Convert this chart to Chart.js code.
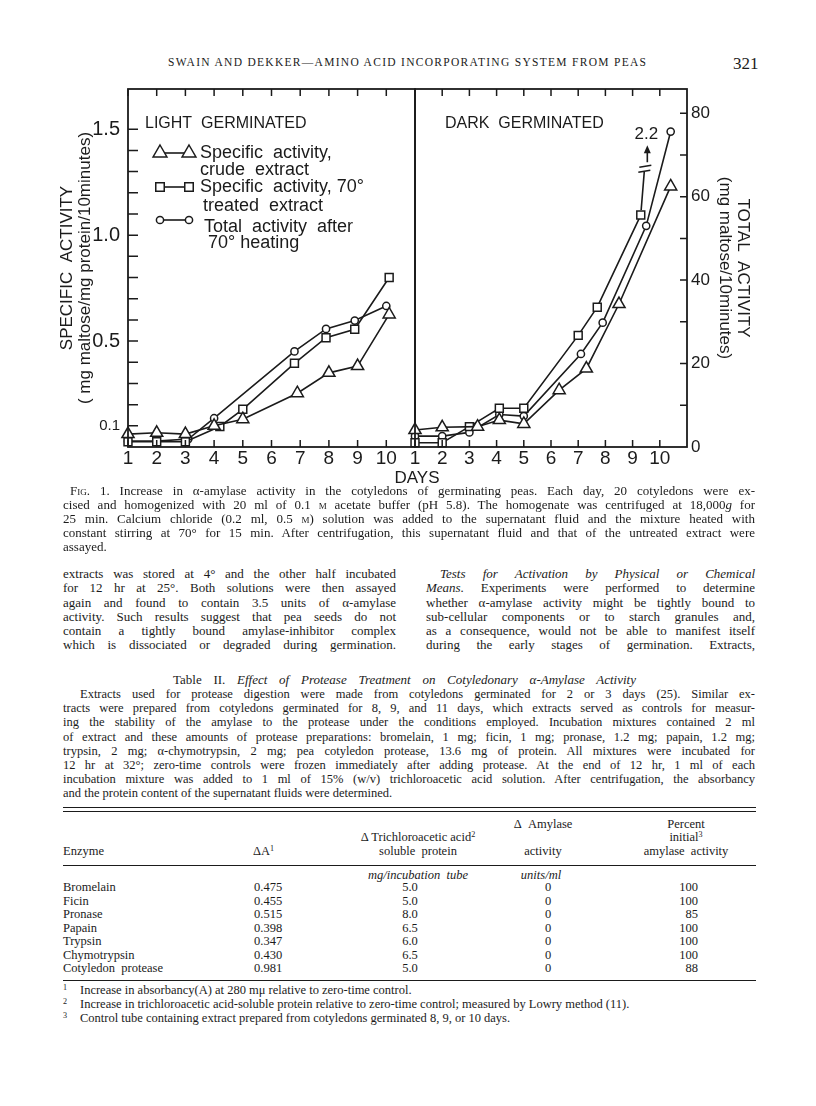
<!DOCTYPE html>
<html>
<head>
<meta charset="utf-8">
<script src="https://cdn.jsdelivr.net/npm/chart.js@4.4.1/dist/chart.umd.min.js"></script>
<style>
  html, body { margin: 0; padding: 0; background: #fff; }
  #page { position: relative; width: 816px; height: 1106px; overflow: hidden; color: #1b1b1b;
          font-family: "Liberation Serif", "Times New Roman", serif; }
  .ln { position: absolute; white-space: nowrap; line-height: 1; }
  .f13 { font-size: 13px; }
  .f12 { font-size: 12.5px; }
  .sans { font-family: "Liberation Sans", Arial, sans-serif; }
  .sc { font-variant: small-caps; }
  sup { font-size: 0.65em; line-height: 0; vertical-align: 0.45em; }
  .rule { position: absolute; left: 63px; width: 693px; border-top: 1.3px solid #1b1b1b; }
  .c { transform: translateX(-50%); }
  .r { transform: translateX(-100%); }
  canvas { position: absolute; }
</style>
</head>
<body>
<div id="page">
  <div class="ln" id="hdr" style="left:168px; top:57px; font-size:11.5px;" data-w="478" data-mode="letters">SWAIN AND DEKKER—AMINO ACID INCORPORATING SYSTEM FROM PEAS</div>
  <div class="ln" style="left:733px; top:55px; font-size:17px;">321</div>

  <canvas id="lightChart" width="430" height="400" style="left:0; top:80px;"></canvas>
  <canvas id="darkChart" width="416" height="400" style="left:400px; top:80px;"></canvas>
  <div class="ln sans c" style="left:417px; top:469px; font-size:17px;">DAYS</div>

  <!-- caption -->
  <div class="ln f13" style="left:70px; top:484px;" data-w="685"><span class="sc">Fig.</span> 1. Increase in α-amylase activity in the cotyledons of germinating peas. Each day, 20 cotyledons were ex-</div>
  <div class="ln f13" style="left:63px; top:498px;" data-w="692">cised and homogenized with 20 ml of 0.1 <span class="sc">m</span> acetate buffer (pH 5.8). The homogenate was centrifuged at 18,000<i>g</i> for</div>
  <div class="ln f13" style="left:63px; top:512px;" data-w="692">25 min. Calcium chloride (0.2 ml, 0.5 <span class="sc">m</span>) solution was added to the supernatant fluid and the mixture heated with</div>
  <div class="ln f13" style="left:63px; top:526px;" data-w="692">constant stirring at 70° for 15 min. After centrifugation, this supernatant fluid and that of the untreated extract were</div>
  <div class="ln f13" style="left:63px; top:540px;">assayed.</div>

  <!-- left column -->
  <div class="ln f13" style="left:63px; top:567px;" data-w="333">extracts was stored at 4° and the other half incubated</div>
  <div class="ln f13" style="left:63px; top:581px;" data-w="333">for 12 hr at 25°. Both solutions were then assayed</div>
  <div class="ln f13" style="left:63px; top:596px;" data-w="333">again and found to contain 3.5 units of α-amylase</div>
  <div class="ln f13" style="left:63px; top:610px;" data-w="333">activity. Such results suggest that pea seeds do not</div>
  <div class="ln f13" style="left:63px; top:624px;" data-w="333">contain a tightly bound amylase-inhibitor complex</div>
  <div class="ln f13" style="left:63px; top:638px;" data-w="333">which is dissociated or degraded during germination.</div>

  <!-- right column -->
  <div class="ln f13" style="left:440px; top:567px;" data-w="315"><i>Tests for Activation by Physical or Chemical</i></div>
  <div class="ln f13" style="left:426px; top:581px;" data-w="329"><i>Means.</i> Experiments were performed to determine</div>
  <div class="ln f13" style="left:426px; top:596px;" data-w="329">whether α-amylase activity might be tightly bound to</div>
  <div class="ln f13" style="left:426px; top:610px;" data-w="329">sub-cellular components or to starch granules and,</div>
  <div class="ln f13" style="left:426px; top:624px;" data-w="329">as a consequence, would not be able to manifest itself</div>
  <div class="ln f13" style="left:426px; top:638px;" data-w="329">during the early stages of germination. Extracts,</div>

  <!-- table title and legend -->
  <div class="ln f13" style="left:173px; top:673px;" data-w="463">Table II. <i>Effect of Protease Treatment on Cotyledonary α-Amylase Activity</i></div>
  <div class="ln f12" style="left:80px; top:688px;" data-w="675">Extracts used for protease digestion were made from cotyledons germinated for 2 or 3 days (25). Similar ex-</div>
  <div class="ln f12" style="left:63px; top:702px;" data-w="692">tracts were prepared from cotyledons germinated for 8, 9, and 11 days, which extracts served as controls for measur-</div>
  <div class="ln f12" style="left:63px; top:716px;" data-w="692">ing the stability of the amylase to the protease under the conditions employed. Incubation mixtures contained 2 ml</div>
  <div class="ln f12" style="left:63px; top:731px;" data-w="692">of extract and these amounts of protease preparations: bromelain, 1 mg; ficin, 1 mg; pronase, 1.2 mg; papain, 1.2 mg;</div>
  <div class="ln f12" style="left:63px; top:745px;" data-w="692">trypsin, 2 mg; α-chymotrypsin, 2 mg; pea cotyledon protease, 13.6 mg of protein. All mixtures were incubated for</div>
  <div class="ln f12" style="left:63px; top:759px;" data-w="692">12 hr at 32°; zero-time controls were frozen immediately after adding protease. At the end of 12 hr, 1 ml of each</div>
  <div class="ln f12" style="left:63px; top:773px;" data-w="692">incubation mixture was added to 1 ml of 15% (w/v) trichloroacetic acid solution. After centrifugation, the absorbancy</div>
  <div class="ln f12" style="left:63px; top:787px;">and the protein content of the supernatant fluids were determined.</div>

  <!-- table -->
  <div class="rule" style="top:807px;"></div>
  <div class="rule" style="top:810.5px;"></div>
  <div class="ln f12 c" style="left:543px; top:818px;">Δ&nbsp; Amylase</div>
  <div class="ln f12 c" style="left:686px; top:818px;">Percent</div>
  <div class="ln f12 c" style="left:418px; top:831px;">Δ Trichloroacetic acid<sup>2</sup></div>
  <div class="ln f12 c" style="left:686px; top:831px;">initial<sup>3</sup></div>
  <div class="ln f12" style="left:63px; top:845px;">Enzyme</div>
  <div class="ln f12" style="left:253px; top:845px;">ΔA<sup>1</sup></div>
  <div class="ln f12 c" style="left:418px; top:845px;">soluble&nbsp; protein</div>
  <div class="ln f12 c" style="left:543px; top:845px;">activity</div>
  <div class="ln f12 c" style="left:686px; top:845px;">amylase&nbsp; activity</div>
  <div class="rule" style="top:865px;"></div>
  <div class="ln f12 c" style="left:418px; top:869px;"><i>mg/incubation&nbsp; tube</i></div>
  <div class="ln f12 c" style="left:541px; top:869px;"><i>units/ml</i></div>

  <div class="ln f12" style="left:63px; top:881px;">Bromelain</div>
  <div class="ln f12" style="left:254px; top:881px;">0.475</div>
  <div class="ln f12 c" style="left:410px; top:881px;">5.0</div>
  <div class="ln f12 c" style="left:548px; top:881px;">0</div>
  <div class="ln f12 r" style="left:698px; top:881px;">100</div>

  <div class="ln f12" style="left:63px; top:894.5px;">Ficin</div>
  <div class="ln f12" style="left:254px; top:894.5px;">0.455</div>
  <div class="ln f12 c" style="left:410px; top:894.5px;">5.0</div>
  <div class="ln f12 c" style="left:548px; top:894.5px;">0</div>
  <div class="ln f12 r" style="left:698px; top:894.5px;">100</div>

  <div class="ln f12" style="left:63px; top:908px;">Pronase</div>
  <div class="ln f12" style="left:254px; top:908px;">0.515</div>
  <div class="ln f12 c" style="left:410px; top:908px;">8.0</div>
  <div class="ln f12 c" style="left:548px; top:908px;">0</div>
  <div class="ln f12 r" style="left:698px; top:908px;">85</div>

  <div class="ln f12" style="left:63px; top:921.5px;">Papain</div>
  <div class="ln f12" style="left:254px; top:921.5px;">0.398</div>
  <div class="ln f12 c" style="left:410px; top:921.5px;">6.5</div>
  <div class="ln f12 c" style="left:548px; top:921.5px;">0</div>
  <div class="ln f12 r" style="left:698px; top:921.5px;">100</div>

  <div class="ln f12" style="left:63px; top:935px;">Trypsin</div>
  <div class="ln f12" style="left:254px; top:935px;">0.347</div>
  <div class="ln f12 c" style="left:410px; top:935px;">6.0</div>
  <div class="ln f12 c" style="left:548px; top:935px;">0</div>
  <div class="ln f12 r" style="left:698px; top:935px;">100</div>

  <div class="ln f12" style="left:63px; top:948.5px;">Chymotrypsin</div>
  <div class="ln f12" style="left:254px; top:948.5px;">0.430</div>
  <div class="ln f12 c" style="left:410px; top:948.5px;">6.5</div>
  <div class="ln f12 c" style="left:548px; top:948.5px;">0</div>
  <div class="ln f12 r" style="left:698px; top:948.5px;">100</div>

  <div class="ln f12" style="left:63px; top:962px;">Cotyledon&nbsp; protease</div>
  <div class="ln f12" style="left:254px; top:962px;">0.981</div>
  <div class="ln f12 c" style="left:410px; top:962px;">5.0</div>
  <div class="ln f12 c" style="left:548px; top:962px;">0</div>
  <div class="ln f12 r" style="left:698px; top:962px;">88</div>
  <div class="rule" style="top:980px;"></div>

  <div class="ln f12" style="left:63px; top:984px;"><sup>1</sup></div>
  <div class="ln f12" style="left:80px; top:984px;">Increase in absorbancy(A) at 280 mμ relative to zero-time control.</div>
  <div class="ln f12" style="left:63px; top:998px;"><sup>2</sup></div>
  <div class="ln f12" style="left:80px; top:998px;">Increase in trichloroacetic acid-soluble protein relative to zero-time control; measured by Lowry method (11).</div>
  <div class="ln f12" style="left:63px; top:1012px;"><sup>3</sup></div>
  <div class="ln f12" style="left:80px; top:1012px;">Control tube containing extract prepared from cotyledons germinated 8, 9, or 10 days.</div>
</div>

<script>
// ---- values ----
const dayTicks = [1, 2, 3, 4, 5, 6, 7, 8, 9, 10];
const specTickLabels = [0.1, 0.5, 1.0, 1.5];
const specTickMarks = [0.1, 0.2, 0.3, 0.4, 0.5, 0.6, 0.7, 0.8, 0.9, 1.0, 1.1, 1.2, 1.3, 1.4, 1.5];
const totalTickLabels = [0, 20, 40, 60, 80];
const totalTickMarks = [10, 20, 30, 40, 50, 60, 70, 80];

// light germinated
const lightTriDays = [1, 2, 3, 4, 5, 6.9, 8, 9, 10.1];
const lightTriSpec = [0.061, 0.067, 0.061, 0.1, 0.131, 0.254, 0.35, 0.382, 0.626];
const lightSqDays = [1, 2, 3, 4.2, 5, 6.8, 7.9, 8.9, 10.1];
const lightSqSpec = [0.025, 0.025, 0.025, 0.097, 0.178, 0.395, 0.516, 0.556, 0.8];
const lightCircDays = [1, 2, 3.1, 4, 6.8, 7.9, 8.9, 10];
const lightCircTotal = [1.4, 1.4, 1.9, 6.9, 22.9, 28.3, 30.3, 33.8];

// dark germinated
const darkTriDays = [1, 2, 3.3, 4.1, 5, 6.3, 7.3, 8.5, 10.4];
const darkTriSpec = [0.08, 0.093, 0.096, 0.127, 0.109, 0.268, 0.37, 0.675, 1.23];
const darkSqDays = [1, 2, 3, 4.1, 5, 7, 7.7, 9.3, 10];
const darkSqSpec = [0.02, 0.02, 0.096, 0.183, 0.183, 0.527, 0.66, 1.095, 2.2];
const darkCircDays = [1, 2, 3, 4.1, 5, 7.1, 7.9, 9.5, 10.4];
const darkCircTotal = [2.6, 2.6, 3.5, 7.8, 7.4, 22.3, 29.8, 53.0, 75.6];

const specMax = 1.69;
const totalMax = 85.8;

const INK = "#1b1b1b";
const SANS = "'Liberation Sans', Arial, sans-serif";
const markerRadius = { triangle: 7, rect: 5.6, circle: 3.6 };

function makeSeries(days, values, shape, axis) {
    const r = markerRadius[shape];
    return {
        data: days.map((d, i) => ({ x: d, y: values[i] })),
        yAxisID: axis,
        borderColor: INK,
        borderWidth: 1.6,
        pointStyle: shape,
        pointRadius: (ctx) =>
            ctx.raw && ctx.raw.y > ctx.chart.scales[axis].max ? 0 : r,
        pointBackgroundColor: "#ffffff",
        pointBorderColor: INK,
        pointBorderWidth: 1.5,
        tension: 0,
        fill: false,
        clip: false,
        segment: {
            borderColor: (ctx) =>
                ctx.p1.parsed.y > ctx.chart.scales[axis].max ? "rgba(0,0,0,0)" : INK,
        },
    };
}

// no extra room for half-labels: the plot box is placed exactly
function noLabelPadding(s) {
    s.paddingTop = 0;
    s.paddingBottom = 0;
    s.paddingLeft = 0;
    s.paddingRight = 0;
}

function drawMarker(ctx, shape, x, y, r) {
    ctx.beginPath();
    if (shape === "triangle") {
        ctx.moveTo(x, y - r);
        ctx.lineTo(x + r * 0.866, y + r * 0.5);
        ctx.lineTo(x - r * 0.866, y + r * 0.5);
        ctx.closePath();
    } else if (shape === "rect") {
        const s = r * Math.SQRT1_2;
        ctx.rect(x - s, y - s, 2 * s, 2 * s);
    } else {
        ctx.arc(x, y, r, 0, Math.PI * 2);
    }
    ctx.fillStyle = "#fff";
    ctx.fill();
    ctx.stroke();
}

// frame round the plot with the short inward tick marks
const frameTicks = {
    id: "frameTicks",
    afterDraw(chart, args, opts) {
        const { ctx, chartArea: a, scales } = chart;
        ctx.save();
        ctx.strokeStyle = INK;
        ctx.lineWidth = 1.8;
        ctx.strokeRect(a.left, a.top, a.right - a.left, a.bottom - a.top);
        ctx.lineWidth = 1.5;
        ctx.beginPath();
        dayTicks.forEach((d) => {
            const px = scales.x.getPixelForValue(d);
            ctx.moveTo(px, a.bottom);
            ctx.lineTo(px, a.bottom - 7);
            ctx.moveTo(px, a.top);
            ctx.lineTo(px, a.top + 7);
        });
        const ys = scales[opts.axis];
        opts.marks.forEach((v) => {
            const py = ys.getPixelForValue(v);
            if (opts.side === "left") {
                ctx.moveTo(a.left, py);
                ctx.lineTo(a.left + 10, py);
            } else {
                ctx.moveTo(a.right, py);
                ctx.lineTo(a.right - 7, py);
            }
        });
        ctx.stroke();
        ctx.restore();
    },
};

// panel heading and (left panel only) the key
const panelText = {
    id: "panelText",
    afterDraw(chart, args, opts) {
        const { ctx, chartArea: a } = chart;
        ctx.save();
        ctx.fillStyle = INK;
        ctx.strokeStyle = INK;
        ctx.textBaseline = "middle";
        ctx.font = "16px " + SANS;
        ctx.fillText(opts.heading, a.left + opts.hx, a.top + 35);
        if (opts.key) {
            ctx.font = "18px " + SANS;
            opts.key.forEach((k) => {
                const y = a.top + k.dy;
                ctx.lineWidth = 1.6;
                ctx.beginPath();
                ctx.moveTo(a.left + 32, y);
                ctx.lineTo(a.left + 61, y);
                ctx.stroke();
                ctx.lineWidth = 1.5;
                drawMarker(ctx, k.shape, a.left + 32, y, k.r);
                drawMarker(ctx, k.shape, a.left + 61, y, k.r);
                ctx.fillStyle = INK;
                k.lines.forEach((t, i) => {
                    ctx.fillText(t, a.left + k.tx[i], a.top + k.ty[i]);
                });
            });
        }
        ctx.restore();
    },
};

// break mark, arrow and value for a point that runs off the top
const offscaleMark = {
    id: "offscaleMark",
    afterDatasetsDraw(chart) {
        const { ctx } = chart;
        chart.data.datasets.forEach((ds, di) => {
            const meta = chart.getDatasetMeta(di);
            const ys = chart.scales[ds.yAxisID];
            ds.data.forEach((pt, i) => {
                if (i === 0 || pt.y <= ys.max) return;
                const p0 = meta.data[i - 1];
                const p1 = meta.data[i];
                const dx = p1.x - p0.x;
                const dy = p1.y - p0.y;
                const len = Math.hypot(dx, dy);
                const ux = dx / len;
                const uy = dy / len;
                const bx = p0.x + ux * 44;
                const by = p0.y + uy * 44;
                ctx.save();
                ctx.strokeStyle = INK;
                ctx.fillStyle = INK;
                ctx.lineWidth = 1.6;
                ctx.beginPath();
                ctx.moveTo(p0.x + ux * 5, p0.y + uy * 5);
                ctx.lineTo(bx, by);
                ctx.moveTo(bx - 6, by + 1);
                ctx.lineTo(bx + 6, by - 1);
                ctx.moveTo(bx - 5, by - 4);
                ctx.lineTo(bx + 7, by - 6);
                ctx.moveTo(bx + 3, by - 9);
                ctx.lineTo(bx + 3, by - 20);
                ctx.stroke();
                ctx.beginPath();
                ctx.moveTo(bx + 3, by - 26);
                ctx.lineTo(bx - 0.5, by - 18);
                ctx.lineTo(bx + 6.5, by - 18);
                ctx.closePath();
                ctx.fill();
                ctx.font = "17px " + SANS;
                ctx.textAlign = "center";
                ctx.textBaseline = "middle";
                ctx.fillText(String(pt.y), bx + 2, by - 37);
                ctx.restore();
            });
        });
    },
};

const dayAxis = {
    type: "linear",
    min: 1,
    max: 11,
    afterFit: (s) => { s.height = 33; noLabelPadding(s); },
    afterBuildTicks: (s) => { s.ticks = dayTicks.map((v) => ({ value: v })); },
    grid: { display: false, drawTicks: false },
    border: { display: false },
    ticks: {
        autoSkip: false,
        maxRotation: 0,
        padding: 0,
        color: INK,
        font: { family: SANS, size: 19 },
        callback: (v) => String(v),
    },
};

const lightChart = new Chart(document.getElementById("lightChart"), {
    type: "line",
    data: {
        datasets: [
            makeSeries(lightTriDays, lightTriSpec, "triangle", "ySpec"),
            makeSeries(lightSqDays, lightSqSpec, "rect", "ySpec"),
            makeSeries(lightCircDays, lightCircTotal, "circle", "yTotal"),
        ],
    },
    options: {
        responsive: false,
        animation: false,
        devicePixelRatio: 1,
        layout: { padding: { top: 9, right: 15, bottom: 0, left: 0 } },
        plugins: {
            legend: { display: false },
            tooltip: { enabled: false },
            frameTicks: { axis: "ySpec", side: "left", marks: specTickMarks },
            panelText: {
                heading: "LIGHT  GERMINATED",
                hx: 17,
                key: [
                    { shape: "triangle", r: 8, dy: 64, lines: ["Specific  activity,", "crude  extract"], tx: [72, 72], ty: [64, 81] },
                    { shape: "rect", r: 6, dy: 98, lines: ["Specific  activity, 70°", "treated  extract"], tx: [72, 75], ty: [98, 117] },
                    { shape: "circle", r: 3.6, dy: 131, lines: ["Total  activity  after", "70° heating"], tx: [76, 80], ty: [138, 154] },
                ],
            },
        },
        scales: {
            x: dayAxis,
            ySpec: {
                type: "linear",
                position: "left",
                min: 0,
                max: specMax,
                afterFit: (s) => { s.width = 128; noLabelPadding(s); },
                afterBuildTicks: (s) => { s.ticks = specTickLabels.map((v) => ({ value: v })); },
                grid: { display: false, drawTicks: false },
                border: { display: false },
                ticks: {
                    padding: 8,
                    color: INK,
                    font: (ctx) => ({ family: SANS, size: ctx.tick && ctx.tick.value === 0.1 ? 15 : 20 }),
                    callback: (v) => v.toFixed(1),
                },
                title: {
                    display: true,
                    text: ["SPECIFIC  ACTIVITY", "( mg maltose/mg protein/10minutes)"],
                    color: INK,
                    font: { family: SANS, size: 17, lineHeight: "18px" },
                    padding: { top: 58, bottom: 0 },
                },
            },
            yTotal: { type: "linear", display: false, min: 0, max: totalMax },
        },
    },
    plugins: [frameTicks, panelText],
});

const darkChart = new Chart(document.getElementById("darkChart"), {
    type: "line",
    data: {
        datasets: [
            makeSeries(darkTriDays, darkTriSpec, "triangle", "ySpec"),
            makeSeries(darkSqDays, darkSqSpec, "rect", "ySpec"),
            makeSeries(darkCircDays, darkCircTotal, "circle", "yTotal"),
        ],
    },
    options: {
        responsive: false,
        animation: false,
        devicePixelRatio: 1,
        layout: { padding: { top: 9, right: 0, bottom: 0, left: 15 } },
        plugins: {
            legend: { display: false },
            tooltip: { enabled: false },
            frameTicks: { axis: "yTotal", side: "right", marks: totalTickMarks },
            panelText: { heading: "DARK  GERMINATED", hx: 30 },
        },
        scales: {
            x: dayAxis,
            ySpec: { type: "linear", display: false, min: 0, max: specMax },
            yTotal: {
                type: "linear",
                position: "right",
                min: 0,
                max: totalMax,
                afterFit: (s) => { s.width = 129; noLabelPadding(s); },
                afterBuildTicks: (s) => { s.ticks = totalTickLabels.map((v) => ({ value: v })); },
                grid: { display: false, drawTicks: false },
                border: { display: false },
                ticks: {
                    padding: 4,
                    color: INK,
                    font: { family: SANS, size: 17 },
                    callback: (v) => String(v),
                },
                title: {
                    display: true,
                    text: ["TOTAL  ACTIVITY", "(mg maltose/10minutes)"],
                    color: INK,
                    font: { family: SANS, size: 17, lineHeight: "18px" },
                    padding: { top: 64, bottom: 0 },
                },
            },
        },
    },
    plugins: [frameTicks, panelText, offscaleMark],
});

// justify the printed lines to their measured widths
function fitLines() {
    document.querySelectorAll("[data-w]").forEach((el) => {
        const target = parseFloat(el.dataset.w);
        const w = el.getBoundingClientRect().width;
        if (el.dataset.mode === "letters") {
            const n = el.textContent.length - 1;
            el.style.letterSpacing = (target - w) / n + "px";
        } else {
            const n = (el.textContent.match(/ /g) || []).length;
            if (n) el.style.wordSpacing = (target - w) / n + "px";
        }
    });
}
fitLines();
</script>
</body>
</html>
